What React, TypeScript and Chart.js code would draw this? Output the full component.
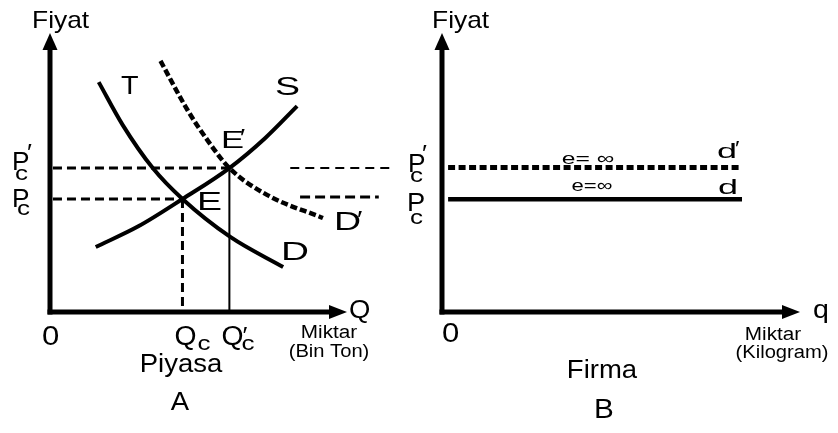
import React, { useEffect, useRef } from "react";
import { Chart, registerables } from "chart.js";
Chart.register(...registerables);

// ---------- Panel A (Piyasa) values ----------
const demandQ = [1.64, 2.45, 3.46, 4.46, 6.07, 7.85];
const demandP = [8.24, 6.7, 5.16, 4.05, 2.69, 1.61];
const supplyQ = [1.54, 2.99, 4.46, 6.04, 7.25, 8.32];
const supplyP = [2.33, 3.08, 4.05, 5.16, 6.24, 7.38];
const newDemandQ = [3.72, 4.63, 5.3, 6.04, 7.32, 9.19];
const newDemandP = [9.0, 7.24, 6.16, 5.16, 4.19, 3.37];
const eqQ = [4.46, 6.04]; // Qc, Q'c
const eqP = [4.05, 5.16]; // Pc, P'c
const strayUpperQ = [8.09, 11.51];
const strayLowerQ = [8.42, 11.07];
const strayLowerP = 4.12;

// ---------- Panel B (Firma) values ----------
const firmQ = [0.17, 8.38];
const firmP = [4.04, 5.18]; // d, d'

const FONT = '"Liberation Sans", Arial, sans-serif';

function txt(ctx: CanvasRenderingContext2D, s: string, x: number, y: number, size: number, align: CanvasTextAlign = "left", sx = 1.1) {
  ctx.save();
  ctx.font = `${size}px ${FONT}`;
  ctx.textAlign = align;
  ctx.textBaseline = "alphabetic";
  ctx.fillStyle = "#000";
  ctx.translate(x, y);
  ctx.scale(sx, 1);
  ctx.fillText(s, 0, 0);
  ctx.restore();
}

const pts = (xs: number[], ys: number[]) => xs.map((x, i) => ({ x, y: ys[i] }));

function axesPlugin(drawTexts: (chart: any) => void) {
  return {
    id: "econAxes",
    afterDatasetsDraw(chart: any) {
      const { ctx, scales } = chart;
      const x0 = scales.x.getPixelForValue(0);
      const y0 = scales.y.getPixelForValue(0);
      const yTop = scales.y.getPixelForValue(10);
      const xEnd = scales.x.getPixelForValue(10);
      ctx.save();
      ctx.strokeStyle = "#000";
      ctx.fillStyle = "#000";
      ctx.lineWidth = 5;
      ctx.beginPath();
      ctx.moveTo(x0, y0 + 2.5);
      ctx.lineTo(x0, yTop + 15);
      ctx.stroke();
      ctx.beginPath();
      ctx.moveTo(x0 - 2.5, y0);
      ctx.lineTo(xEnd - 15, y0);
      ctx.stroke();
      ctx.beginPath();
      ctx.moveTo(x0, yTop);
      ctx.lineTo(x0 - 7.5, yTop + 17);
      ctx.lineTo(x0 + 7.5, yTop + 17);
      ctx.closePath();
      ctx.fill();
      ctx.beginPath();
      ctx.moveTo(xEnd, y0);
      ctx.lineTo(xEnd - 18, y0 - 7);
      ctx.lineTo(xEnd - 18, y0 + 7);
      ctx.closePath();
      ctx.fill();
      ctx.restore();
      drawTexts(chart);
    },
  };
}

function baseOptions(padding: any) {
  return {
    responsive: false,
    animation: false as const,
    events: [],
    layout: { padding },
    plugins: { legend: { display: false }, tooltip: { enabled: false } },
    elements: { point: { radius: 0 } },
    scales: {
      x: { type: "linear" as const, min: 0, max: 10, display: false },
      y: { type: "linear" as const, min: 0, max: 10, display: false },
    },
  };
}

const line = (data: any[], width: number, dash: number[] = [], extra: any = {}) => ({
  data,
  showLine: true,
  borderColor: "#000",
  backgroundColor: "#000",
  borderWidth: width,
  borderDash: dash,
  pointRadius: 0,
  fill: false,
  ...extra,
});

function drawTextsA(chart: any) {
  const { ctx, scales } = chart;
  const xs = scales.x, ys = scales.y;
  txt(ctx, "Fiyat", 32, 28, 24);
  txt(ctx, "T", 121, 94, 25, "left", 1.15);
  txt(ctx, "S", 275, 95, 25, "left", 1.5);
  txt(ctx, "E", 221, 148, 23, "left", 1.5);
  txt(ctx, "′", 240, 146, 23, "left", 1.2);
  txt(ctx, "E", 197, 210, 25, "left", 1.5);
  txt(ctx, "D", 334, 230, 25, "left", 1.5);
  txt(ctx, "′", 357, 228, 24, "left", 1.2);
  txt(ctx, "D", 281, 260, 25, "left", 1.55);
  txt(ctx, "Q", 349, 318, 25, "left", 1.1);
  txt(ctx, "0", 42, 345, 27, "left", 1.15);
  // Q ticks
  const qc = xs.getPixelForValue(eqQ[0]);
  const qcp = xs.getPixelForValue(eqQ[1]);
  txt(ctx, "Q", qc - 8, 345, 27, "left", 1.05);
  txt(ctx, "c", qc + 15, 350, 20, "left", 1.3);
  txt(ctx, "Q", qcp - 8, 345, 27, "left", 1.05);
  txt(ctx, "′", qcp + 13, 344, 24, "left", 1.1);
  txt(ctx, "c", qcp + 12, 350, 20, "left", 1.3);
  // P ticks
  const pc = ys.getPixelForValue(eqP[0]);
  const pcp = ys.getPixelForValue(eqP[1]);
  txt(ctx, "P", 12, pcp + 2, 25, "left", 1.05);
  txt(ctx, "′", 27, pcp - 7, 24, "left", 1.1);
  txt(ctx, "c", 15, pcp + 12, 20, "left", 1.3);
  txt(ctx, "P", 12, pc + 8, 25, "left", 1.05);
  txt(ctx, "c", 17, pc + 16, 20, "left", 1.3);
  txt(ctx, "Miktar", 329, 338, 18, "center", 1.15);
  txt(ctx, "(Bin Ton)", 329, 357, 18, "center", 1.12);
  txt(ctx, "Piyasa", 181, 372, 25, "center", 1.1);
  txt(ctx, "A", 180, 410, 25, "center", 1.1);
}

function drawTextsB(chart: any) {
  const { ctx, scales } = chart;
  const ys = scales.y;
  txt(ctx, "Fiyat", 32, 28, 24);
  txt(ctx, "d", 317, 158, 20, "left", 1.8);
  txt(ctx, "′", 335, 155, 20, "left", 1.2);
  txt(ctx, "d", 318, 194, 20, "left", 1.8);
  txt(ctx, "e= ∞", 188, 164, 17, "center", 1.45);
  txt(ctx, "e=∞", 192, 191, 17, "center", 1.3);
  txt(ctx, "0", 42, 342, 27, "left", 1.15);
  txt(ctx, "q", 413, 318, 26, "left", 1.1);
  const pc = ys.getPixelForValue(firmP[0]);
  const pcp = ys.getPixelForValue(firmP[1]);
  txt(ctx, "P", 8, pcp + 5, 25, "left", 1.05);
  txt(ctx, "′", 22, pcp - 5, 24, "left", 1.1);
  txt(ctx, "c", 10, pcp + 15, 20, "left", 1.3);
  txt(ctx, "P", 7, pc + 12, 26, "left", 1.05);
  txt(ctx, "c", 10, pc + 25, 20, "left", 1.3);
  txt(ctx, "Miktar", 373, 340, 18, "center", 1.15);
  txt(ctx, "(Kilogram)", 382, 358, 18, "center", 1.12);
  txt(ctx, "Firma", 202, 378, 25, "center", 1.1);
  txt(ctx, "B", 204, 418, 27, "center", 1.1);
}

export default function App() {
  const refA = useRef<HTMLCanvasElement>(null);
  const refB = useRef<HTMLCanvasElement>(null);

  useEffect(() => {
    const chartA = new Chart(refA.current!, {
      type: "scatter",
      data: {
        datasets: [
          line(pts(demandQ, demandP), 4, [], { cubicInterpolationMode: "monotone" }),
          line(pts(supplyQ, supplyP), 4, [], { cubicInterpolationMode: "monotone" }),
          line(pts(newDemandQ, newDemandP), 4.5, [7, 3], { cubicInterpolationMode: "monotone" }),
          line([{ x: 0.1, y: eqP[1] }, { x: eqQ[1], y: eqP[1] }], 3, [9, 5]),
          line([{ x: 0.1, y: eqP[0] }, { x: eqQ[0], y: eqP[0] }], 3, [9, 5]),
          line([{ x: eqQ[0], y: eqP[0] }, { x: eqQ[0], y: 0 }], 3, [9, 5]),
          line([{ x: eqQ[1], y: eqP[1] }, { x: eqQ[1], y: 0 }], 2),
          line(strayUpperQ.map((x) => ({ x, y: eqP[1] })), 2, [9, 6], { clip: false }),
          line(strayLowerQ.map((x) => ({ x, y: strayLowerP })), 3, [10, 5], { clip: false }),
        ],
      },
      options: baseOptions({ left: 50, right: 53, top: 33, bottom: 121 }) as any,
      plugins: [axesPlugin(drawTextsA)],
    });
    const chartB = new Chart(refB.current!, {
      type: "scatter",
      data: {
        datasets: [
          line(firmQ.map((x) => ({ x, y: firmP[1] })), 5, [7, 3.5]),
          line(firmQ.map((x) => ({ x, y: firmP[0] })), 4.5),
        ],
      },
      options: baseOptions({ left: 42, right: 38, top: 33, bottom: 121 }) as any,
      plugins: [axesPlugin(drawTextsB)],
    });
    return () => {
      chartA.destroy();
      chartB.destroy();
    };
  }, []);

  return (
    <div style={{ position: "fixed", left: 0, top: 0, width: 838, height: 433, background: "#fff" }}>
      <canvas ref={refA} width={400} height={433} style={{ position: "absolute", left: 0, top: 0 }} />
      <canvas ref={refB} width={438} height={433} style={{ position: "absolute", left: 400, top: 0 }} />
    </div>
  );
}
